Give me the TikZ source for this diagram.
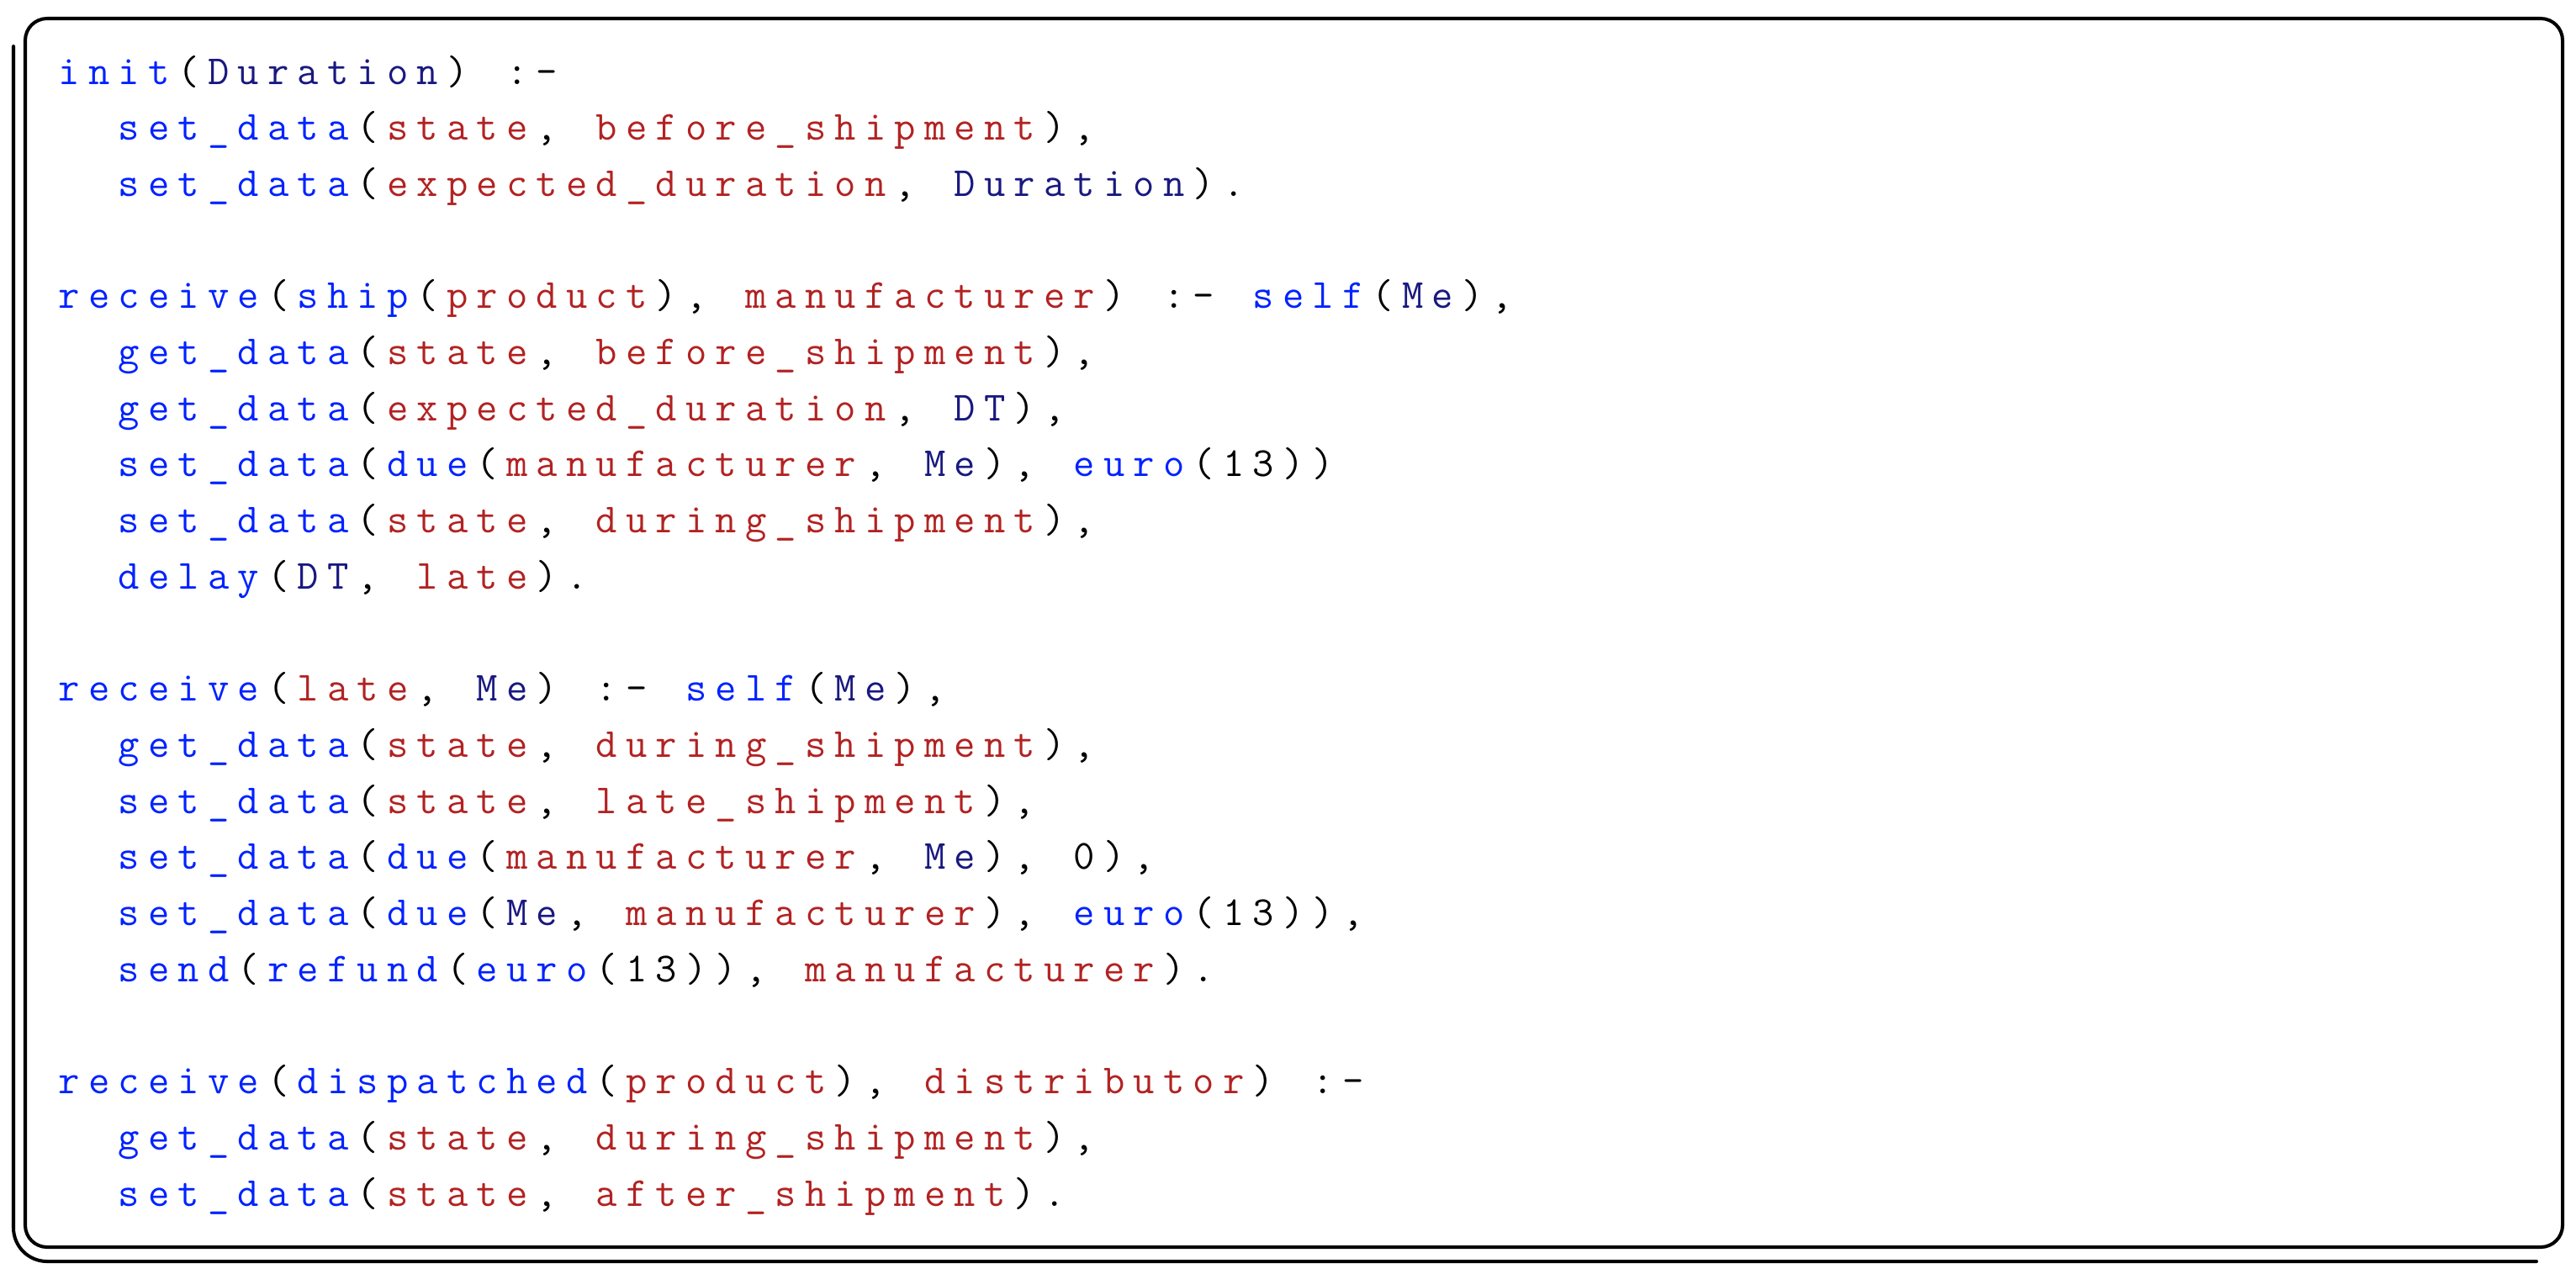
\documentclass[tikz,border=0pt]{standalone}
\usepackage{fontspec}
\usepackage{xcolor}
\definecolor{fnblue}{RGB}{0,34,255}
\definecolor{varnavy}{RGB}{25,25,128}
\definecolor{atomred}{RGB}{178,34,34}
\newlength{\pitch}
\setlength{\pitch}{0.355cm}
% every character in a cell of fixed width
\def\cells#1{\cellsA#1\relax}
\def\cellsA#1{\ifx#1\relax\else\makebox[\pitch][c]{#1}\expandafter\cellsA\fi}
\newcommand{\fn}[1]{\textcolor{fnblue}{\cells{#1}}}
\newcommand{\va}[1]{\textcolor{varnavy}{\cells{#1}}}
\newcommand{\at}[1]{\textcolor{atomred}{\cells{#1}}}
\newcommand{\pu}[1]{\cells{#1}}

\begin{document}
\begin{tikzpicture}
\tikzset{code/.style={anchor=base west,inner sep=0pt,font=\ttfamily\fontsize{14}{17}\selectfont},
         frame/.style={line width=1.15pt,line cap=round}}
\useasboundingbox (0,0) rectangle (30.63,-15.14);
% frame
\draw[frame,rounded corners=0.26cm] (0.30,-0.22) rectangle (30.47,-14.83);
\draw[frame,rounded corners=0.40cm] (0.16,-0.55) -- (0.16,-15.0) -- (30.16,-15.0);
% listing
\begin{scope}[every node/.style={code}]
    \node (l1) at (0.64,-1.000) {\fn{init}\pu{(}\va{Duration}\pu{)~:-}};
    \node (l2) at (1.35,-1.667) {\fn{set\_data}\pu{(}\at{state}\pu{,~}\at{before\_shipment}\pu{),}};
    \node (l3) at (1.35,-2.334) {\fn{set\_data}\pu{(}\at{expected\_duration}\pu{,~}\va{Duration}\pu{).}};
    \node (l5) at (0.64,-3.668) {\fn{receive}\pu{(}\fn{ship}\pu{(}\at{product}\pu{),~}\at{manufacturer}\pu{)~:-~}\fn{self}\pu{(}\va{Me}\pu{),}};
    \node (l6) at (1.35,-4.335) {\fn{get\_data}\pu{(}\at{state}\pu{,~}\at{before\_shipment}\pu{),}};
    \node (l7) at (1.35,-5.002) {\fn{get\_data}\pu{(}\at{expected\_duration}\pu{,~}\va{DT}\pu{),}};
    \node (l8) at (1.35,-5.669) {\fn{set\_data}\pu{(}\fn{due}\pu{(}\at{manufacturer}\pu{,~}\va{Me}\pu{),~}\fn{euro}\pu{(13))}};
    \node (l9) at (1.35,-6.336) {\fn{set\_data}\pu{(}\at{state}\pu{,~}\at{during\_shipment}\pu{),}};
    \node (l10) at (1.35,-7.003) {\fn{delay}\pu{(}\va{DT}\pu{,~}\at{late}\pu{).}};
    \node (l12) at (0.64,-8.337) {\fn{receive}\pu{(}\at{late}\pu{,~}\va{Me}\pu{)~:-~}\fn{self}\pu{(}\va{Me}\pu{),}};
    \node (l13) at (1.35,-9.004) {\fn{get\_data}\pu{(}\at{state}\pu{,~}\at{during\_shipment}\pu{),}};
    \node (l14) at (1.35,-9.671) {\fn{set\_data}\pu{(}\at{state}\pu{,~}\at{late\_shipment}\pu{),}};
    \node (l15) at (1.35,-10.338) {\fn{set\_data}\pu{(}\fn{due}\pu{(}\at{manufacturer}\pu{,~}\va{Me}\pu{),~0),}};
    \node (l16) at (1.35,-11.005) {\fn{set\_data}\pu{(}\fn{due}\pu{(}\va{Me}\pu{,~}\at{manufacturer}\pu{),~}\fn{euro}\pu{(13)),}};
    \node (l17) at (1.35,-11.672) {\fn{send}\pu{(}\fn{refund}\pu{(}\fn{euro}\pu{(13)),~}\at{manufacturer}\pu{).}};
    \node (l19) at (0.64,-13.006) {\fn{receive}\pu{(}\fn{dispatched}\pu{(}\at{product}\pu{),~}\at{distributor}\pu{)~:-}};
    \node (l20) at (1.35,-13.673) {\fn{get\_data}\pu{(}\at{state}\pu{,~}\at{during\_shipment}\pu{),}};
    \node (l21) at (1.35,-14.340) {\fn{set\_data}\pu{(}\at{state}\pu{,~}\at{after\_shipment}\pu{).}};
\end{scope}
\end{tikzpicture}
\end{document}
